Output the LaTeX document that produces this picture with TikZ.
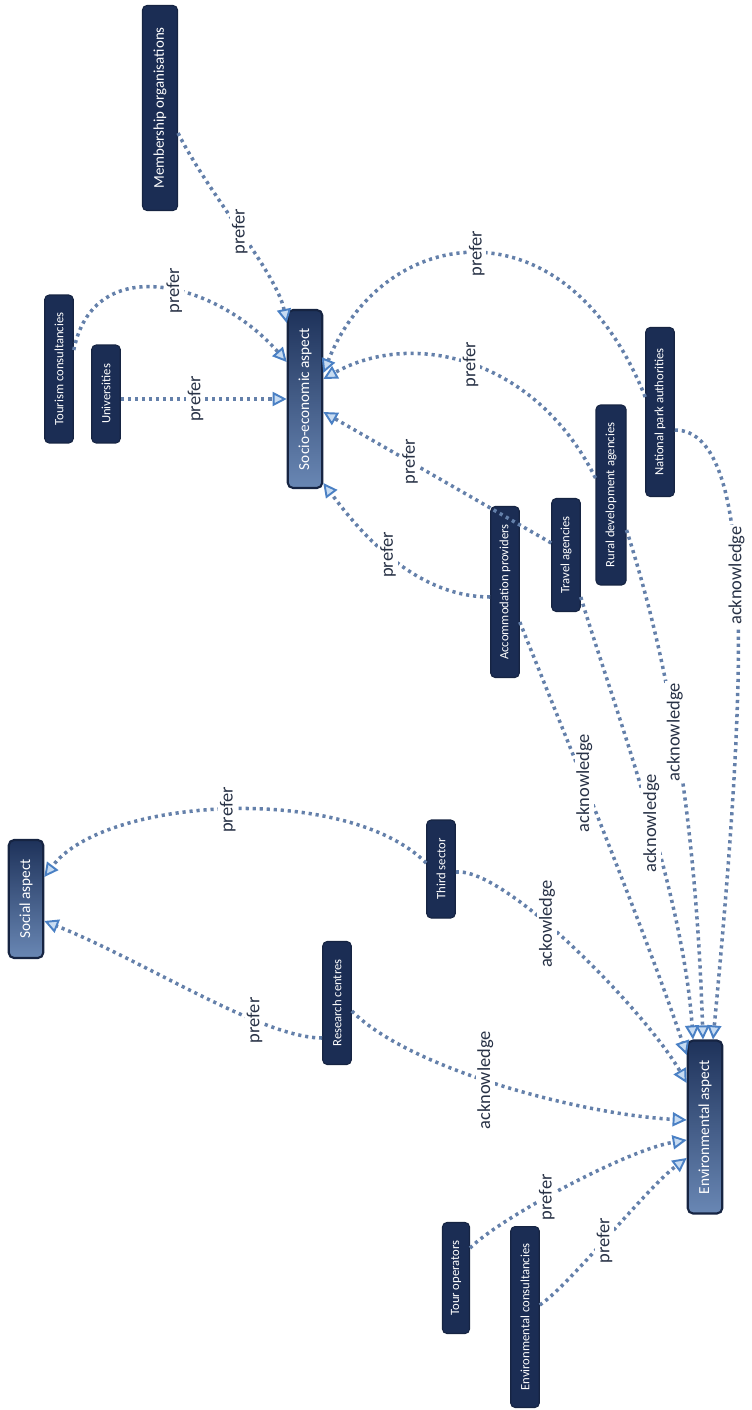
\documentclass[tikz,border=0pt]{standalone}
\usepackage{fontspec}
\setmainfont{Carlito}
\usetikzlibrary{arrows.meta,calc,positioning}

\definecolor{boxnavy}{RGB}{27,45,84}
\definecolor{aspdark}{RGB}{30,50,90}
\definecolor{asplight}{RGB}{105,135,180}
\definecolor{aspedge}{RGB}{22,36,66}
\definecolor{linkgrey}{RGB}{100,128,170}
\definecolor{arrowblue}{RGB}{74,128,196}
\definecolor{arrowfill}{RGB}{200,220,242}
\definecolor{lbltext}{RGB}{40,50,70}

\begin{document}
\begin{tikzpicture}[x=0.02cm, y=-0.02cm, semithick,
    >={Triangle[open, length=8pt, width=8pt, line width=1.1pt, color=arrowblue, fill=arrowfill]}]

    \tikzstyle{actor} = [rectangle, rounded corners=2.5pt, fill=boxnavy, draw=aspedge, text=white, minimum width=0.57cm, inner sep=1.5pt, font=\fontsize{7.2}{8}\selectfont]
    \tikzstyle{aspect} = [rectangle, rounded corners=3pt, top color=aspdark, bottom color=asplight, draw=aspedge, line width=1.2pt, text=white, minimum width=0.69cm, inner sep=1.5pt, font=\fontsize{8.7}{10}\selectfont]
    \tikzstyle{link} = [->, draw=linkgrey, line width=2pt, dash pattern=on 1.8pt off 2.2pt]
    \tikzstyle{lbl} = [rotate=90, fill=white, inner sep=1pt, text=lbltext, font=\fontsize{10.5}{12}\selectfont]

    \useasboundingbox (0,0) rectangle (751,1410);

    % the three aspects
    \node (socio)  [aspect, minimum height=3.56cm]  at (305,399)  {\rotatebox{90}{Socio-economic aspect}};
    \node (social) [aspect, minimum height=2.36cm]  at (26,899)   {\rotatebox{90}{Social aspect}};
    \node (env)    [aspect, minimum height=3.46cm]  at (705,1127) {\rotatebox{90}{Environmental aspect}};

    % stakeholders
    \node (member)   [actor, minimum height=4.1cm, minimum width=0.7cm, font=\fontsize{8.5}{10}\selectfont] at (160,108) {\rotatebox{90}{Membership organisations}};
    \node (tourism)  [actor, minimum height=2.96cm]  at (59,369)   {\rotatebox{90}{Tourism consultancies}};
    \node (univ)     [actor, minimum height=1.96cm]  at (106,394)  {\rotatebox{90}{Universities}};
    \node (accom)    [actor, minimum height=3.42cm]  at (505,592)  {\rotatebox{90}{Accommodation providers}};
    \node (travel)   [actor, minimum height=2.26cm]  at (566,555)  {\rotatebox{90}{Travel agencies}};
    \node (rural)    [actor, minimum height=3.6cm, minimum width=0.6cm]  at (611,495) {\rotatebox{90}{Rural development agencies}};
    \node (park)     [actor, minimum height=3.38cm]  at (660,412)  {\rotatebox{90}{National park authorities}};
    \node (third)    [actor, minimum height=1.96cm]  at (441,869)  {\rotatebox{90}{Third sector}};
    \node (research) [actor, minimum height=2.46cm]  at (337,1003) {\rotatebox{90}{Research centres}};
    \node (tour)     [actor, minimum height=2.22cm, minimum width=0.54cm] at (456,1278) {\rotatebox{90}{Tour operators}};
    \node (envcons)  [actor, minimum height=3.62cm]  at (525,1317) {\rotatebox{90}{Environmental consultancies}};

    % prefer -> socio-economic aspect
    \draw[link] ($(member.east)+(0,25)$) .. controls +(30,60) and +(-10,-50) .. ($(socio.west)+(0,-76)$) node[lbl, pos=.5] {prefer};
    \draw[link] ($(tourism.east)+(0,-19)$) .. controls +(20,-100) and +(-70,-80) .. ($(socio.west)+(0,-37)$) node[lbl, pos=.55] {prefer};
    \draw[link] (univ.east |- socio.west) -- (socio.west) node[lbl, pos=.45] {prefer};
    \draw[link] ($(accom.west)+(0,5)$) .. controls +(-80,0) and +(30,40) .. ($(socio.east)+(0,84)$) node[lbl, pos=.5] {prefer};
    \draw[link] ($(travel.west)+(0,-12)$) -- ($(socio.east)+(0,13)$) node[lbl, pos=.62] {prefer};
    \draw[link] ($(rural.west)+(0,-17)$) .. controls +(-60,-120) and +(90,-50) .. ($(socio.east)+(0,-20)$) node[lbl, pos=.5] {prefer};
    \draw[link] ($(park.west)+(0,-15)$) .. controls +(-80,-200) and +(60,-150) .. ($(socio.east)+(0,-26)$) node[lbl, pos=.5] {prefer};

    % -> environmental aspect
    \draw[link] ($(park.east)+(0,18)$) .. controls +(85,0) and +(32,-340) .. ($(env.north)+(8,0)$) node[lbl, pos=.45] {acknowledge};
    \draw[link] ($(rural.east)+(0,35)$) .. controls +(35,110) and +(-8,-250) .. ($(env.north)+(-2,0)$) node[lbl, pos=.5] {acknowledge};
    \draw[link] ($(travel.east)+(0,42)$) .. controls +(30,100) and +(-10,-150) .. ($(env.north)+(-12,0)$) node[lbl, pos=.55] {acknowledge};
    \draw[link] ($(accom.east)+(0,30)$) .. controls +(40,100) and +(-40,-120) .. ($(env.west)+(0,-72)$) node[lbl, pos=.4] {acknowledge};
    \draw[link] ($(third.east)+(0,3)$) .. controls +(50,-5) and +(-40,-70) .. ($(env.west)+(0,-44)$) node[lbl, pos=.4] {ackowledge};
    \draw[link] ($(research.east)+(0,8)$) .. controls +(60,60) and +(-100,-5) .. ($(env.west)+(0,-7)$) node[lbl, pos=.45] {acknowledge};
    \draw[link] ($(tour.east)+(0,-30)$) .. controls +(30,-30) and +(-60,10) .. ($(env.west)+(0,13)$) node[lbl, pos=.42] {prefer};
    \draw[link] ($(envcons.east)+(0,-12)$) .. controls +(30,-20) and +(-40,30) .. ($(env.west)+(0,31)$) node[lbl, pos=.47] {prefer};

    % prefer -> social aspect
    \draw[link] ($(third.west)+(0,-6)$) .. controls +(-80,-80) and +(60,-80) .. ($(social.east)+(0,-22)$) node[lbl, pos=.5] {prefer};
    \draw[link] ($(research.west)+(0,35)$) .. controls +(-60,0) and +(100,40) .. ($(social.east)+(0,22)$) node[lbl, pos=.3] {prefer};
\end{tikzpicture}
\end{document}
